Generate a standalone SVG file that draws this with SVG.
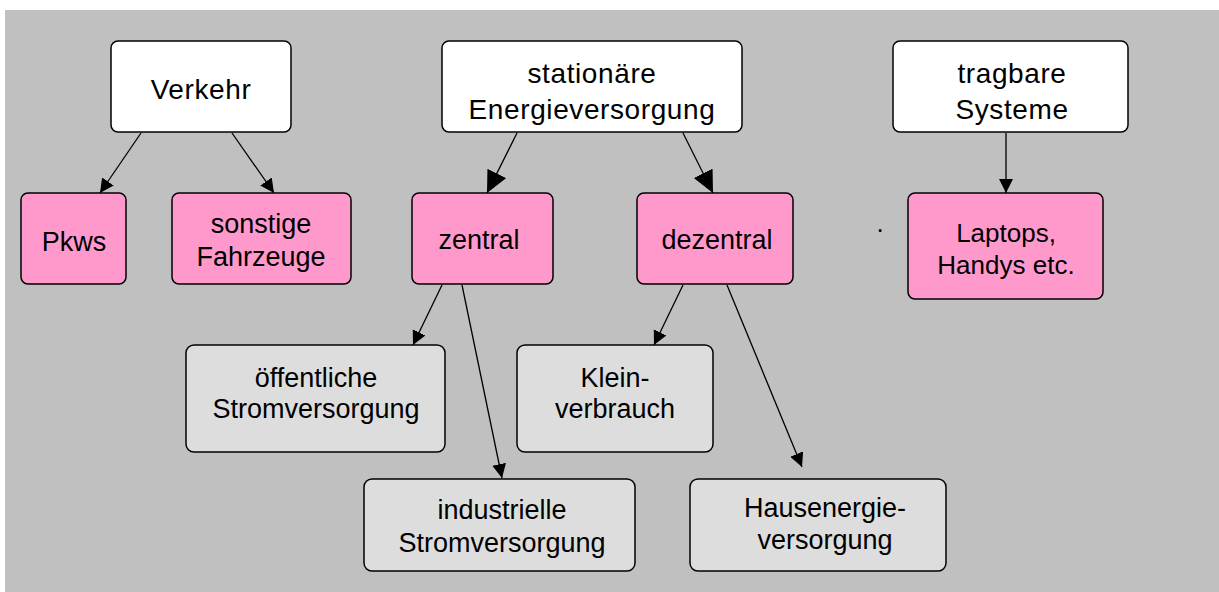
<svg xmlns="http://www.w3.org/2000/svg" width="1219" height="592" viewBox="0 0 1219 592">
<style>
.box{stroke:#000;stroke-width:1.5}
.w{fill:#fff}.p{fill:#ff99cc}.g{fill:#dddddd}
text{font-family:"Liberation Sans",Arial,sans-serif;fill:#000;text-anchor:middle}
.t28{font-size:28px;letter-spacing:0.6px}
.t27{font-size:27px}
.t26{font-size:26px}
.c{stroke:#000;stroke-width:1.3;fill:none}
</style>
<defs>
<marker id="s" markerUnits="userSpaceOnUse" markerWidth="16" markerHeight="16" refX="14" refY="7" orient="auto"><path d="M0,0 L14,7 L0,14 Z" fill="#000"/></marker>
<marker id="l" markerUnits="userSpaceOnUse" markerWidth="24" markerHeight="24" refX="22" refY="10.5" orient="auto"><path d="M0,0 L22,10.5 L0,21 Z" fill="#000"/></marker>
</defs>
<rect x="5" y="10" width="1214" height="582" fill="#c0c0c0"/>
<text x="880" y="232" class="t26">.</text>
<g id="connectors">
<line class="c" x1="141" y1="133" x2="100" y2="193" marker-end="url(#s)"/>
<line class="c" x1="232" y1="133" x2="274" y2="193" marker-end="url(#s)"/>
<line class="c" x1="517" y1="133" x2="487" y2="193" marker-end="url(#l)"/>
<line class="c" x1="683" y1="133" x2="713" y2="193" marker-end="url(#l)"/>
<line class="c" x1="1006" y1="133" x2="1006" y2="193" marker-end="url(#s)"/>
<line class="c" x1="442" y1="285" x2="413" y2="345" marker-end="url(#s)"/>
<line class="c" x1="462" y1="285" x2="502" y2="478" marker-end="url(#s)"/>
<line class="c" x1="683" y1="285" x2="654" y2="345" marker-end="url(#s)"/>
<line class="c" x1="727" y1="285" x2="802" y2="467" marker-end="url(#s)"/>
</g>
<g id="verkehr"><rect class="box w" x="111" y="41" width="180" height="91" rx="7"/><text class="t28" x="201" y="99">Verkehr</text></g>
<g id="stationaer"><rect class="box w" x="442" y="41" width="300" height="91" rx="7"/><text class="t28" x="592" y="83">stationäre</text><text class="t28" x="592" y="119">Energieversorgung</text></g>
<g id="tragbar"><rect class="box w" x="893" y="41" width="235" height="91" rx="7"/><text class="t28" x="1012" y="83">tragbare</text><text class="t28" x="1012" y="119">Systeme</text></g>
<g id="pkws"><rect class="box p" x="21" y="193" width="105" height="91" rx="7"/><text class="t27" x="74" y="251">Pkws</text></g>
<g id="sonstige"><rect class="box p" x="172" y="193" width="179" height="91" rx="7"/><text class="t27" x="261" y="233">sonstige</text><text class="t27" x="261" y="266">Fahrzeuge</text></g>
<g id="zentral"><rect class="box p" x="412" y="193" width="141" height="91" rx="7"/><text class="t27" x="479" y="249">zentral</text></g>
<g id="dezentral"><rect class="box p" x="637" y="193" width="156" height="91" rx="7"/><text class="t27" x="717" y="249">dezentral</text></g>
<g id="laptops"><rect class="box p" x="908" y="193" width="195" height="106" rx="7"/><text class="t26" x="1006" y="242">Laptops,</text><text class="t26" x="1006" y="274">Handys etc.</text></g>
<g id="oeffentlich"><rect class="box g" x="186" y="345" width="259" height="107" rx="8"/><text class="t27" x="316" y="387">öffentliche</text><text class="t27" x="316" y="418">Stromversorgung</text></g>
<g id="klein"><rect class="box g" x="517" y="345" width="196" height="107" rx="8"/><text class="t27" x="615" y="387">Klein-</text><text class="t27" x="615" y="418">verbrauch</text></g>
<g id="industriell"><rect class="box g" x="364" y="479" width="271" height="92" rx="8"/><text class="t27" x="502" y="519">industrielle</text><text class="t27" x="502" y="552">Stromversorgung</text></g>
<g id="hausenergie"><rect class="box g" x="690" y="479" width="256" height="92" rx="8"/><text class="t27" x="825" y="517">Hausenergie-</text><text class="t27" x="825" y="549">versorgung</text></g>
</svg>
